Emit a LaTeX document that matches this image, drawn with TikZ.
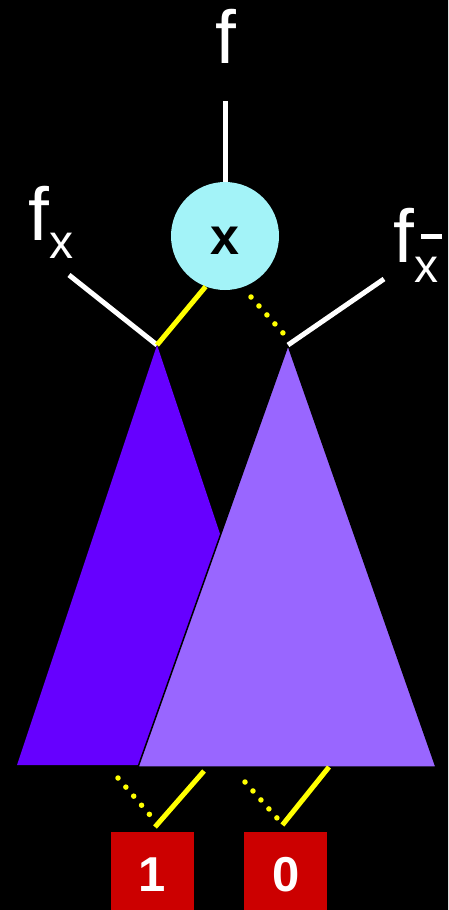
\documentclass[tikz,border=0pt]{standalone}
\usepackage{fontspec}
\setmainfont{Liberation Sans}
\usepackage{tikz}
\usetikzlibrary{positioning}
\usepackage{xcolor}
\definecolor{myviolet}{RGB}{102, 0, 255}
\definecolor{mylilac}{RGB}{153, 102, 255}
\definecolor{mycyan}{RGB}{163, 243, 248}
\definecolor{myred}{RGB}{204, 0, 0}
\definecolor{myyellow}{RGB}{255, 255, 0}
\tikzset{
    hiedge/.style={line width=5pt, myyellow},
    loedge/.style={line width=5.5pt, myyellow, line cap=round, dash pattern=on 0pt off 12pt},
    wire/.style={line width=5pt, white},
    leaf/.style={fill=myred, minimum width=83pt, minimum height=84pt, inner sep=0pt, text=white, font=\fontsize{49}{50}\selectfont\bfseries},
    lbl/.style={text=white, inner sep=0pt, font=\fontsize{75}{78}\selectfont},
}

\begin{document}
\begin{tikzpicture}[x=1pt, y=-1pt]
                % --- Tło ---
                \useasboundingbox (0, 0) rectangle (448, 910);
                \clip (0, 0) rectangle (448, 910);
                \fill[black] (-5, -5) rectangle (453, 915);

                % --- Poddrzewa (trójkąty) ---
                \coordinate (lapex) at (157, 345);
                \coordinate (rapex) at (288, 345);
                \fill[myviolet] (lapex) -- (17, 765) -- (297, 765) -- cycle;
                \filldraw[fill=mylilac, draw=black, line width=1.5pt] (rapex) -- (138, 767) -- (436, 767) -- cycle;

                % --- Węzeł x ---
                \node[circle, fill=mycyan, minimum size=108pt, inner sep=0pt, text height=37pt, text depth=0pt, font=\fontsize{52}{52}\selectfont\bfseries] (xnode) at (225, 236) {x};

                % Etykiety funkcji
                \node[lbl, anchor=base] (ftop) at (226, 63) {f};
                \node[lbl, anchor=base west] (fhi) at (28, 240) {f\raisebox{-18pt}{\fontsize{48}{50}\selectfont x}};
                \node[lbl, anchor=base west] (flo) at (393, 262) {f\raisebox{-20pt}{\fontsize{48}{50}\selectfont\rlap{\hspace{7pt}\rule[43pt]{21pt}{5pt}}x}};

                % Krawędzie przy węźle x
                \coordinate (ftopend) at (225, 101);
                \coordinate (fhiend) at (69, 275);
                \coordinate (floend) at (384, 279);
                \coordinate (lotop) at (251, 297);
                \coordinate (lobot) at (283, 333);
                \draw[wire] (ftopend) -- (xnode.north);
                \draw[wire] (fhiend) -- (lapex);
                \draw[wire] (rapex) -- (floend);
                \draw[hiedge] (lapex) -- (xnode.249);
                \draw[loedge] (lotop) -- (lobot);

                % --- Liście 1 i 0 ---
                \node[leaf, anchor=north] (one) at (152.5, 832) {1};
                \node[leaf, right=50pt of one] (zero) {0};

                % Krawędzie do liści
                \coordinate (lhistart) at (204, 771);
                \coordinate (llostart) at (118, 778);
                \coordinate (llostop) at (150, 815);
                \coordinate (rhistart) at (329, 767);
                \coordinate (rlostart) at (245, 782);
                \coordinate (rlostop) at (277, 818);
                \draw[hiedge] (lhistart) -- ([xshift=2.5pt, yshift=5pt]one.north);
                \draw[loedge] (llostart) -- (llostop);
                \draw[hiedge] (rhistart) -- ([xshift=-3.5pt, yshift=7pt]zero.north);
                \draw[loedge] (rlostart) -- (rlostop);

\end{tikzpicture}
\end{document}
